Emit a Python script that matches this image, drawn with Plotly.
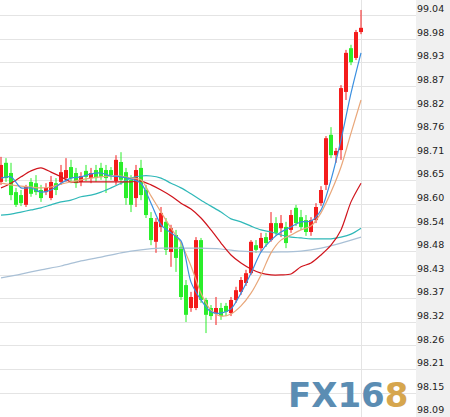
import plotly.graph_objects as go

# ---- candle data (index = bar number) ----
OPEN = [98.648, 98.693, 98.669, 98.624, 98.617, 98.594, 98.648, 98.645, 98.629, 98.624,
        98.610, 98.645, 98.648, 98.657, 98.683, 98.669, 98.648, 98.674, 98.657, 98.676,
        98.681, 98.676, 98.676, 98.650, 98.695, 98.671, 98.653, 98.610, 98.681, 98.629,
        98.563, 98.507, 98.542, 98.554, 98.483, 98.523, 98.495, 98.405, 98.351, 98.351,
        98.511, 98.370, 98.351, 98.339, 98.351, 98.356, 98.339, 98.370, 98.389, 98.410,
        98.433, 98.499, 98.492, 98.518, 98.511, 98.551, 98.539, 98.542, 98.535, 98.587,
        98.565, 98.558, 98.530, 98.558, 98.598, 98.641, 98.759, 98.711, 98.723, 98.860,
        98.963, 98.940, 99.001]
HIGH = [98.707, 98.704, 98.693, 98.634, 98.629, 98.641, 98.657, 98.664, 98.641, 98.645,
        98.662, 98.657, 98.688, 98.704, 98.700, 98.681, 98.671, 98.688, 98.681, 98.688,
        98.693, 98.688, 98.683, 98.711, 98.718, 98.681, 98.664, 98.688, 98.700, 98.641,
        98.577, 98.563, 98.589, 98.563, 98.547, 98.535, 98.507, 98.417, 98.389, 98.518,
        98.516, 98.375, 98.358, 98.377, 98.363, 98.363, 98.377, 98.401, 98.424, 98.441,
        98.511, 98.511, 98.528, 98.528, 98.577, 98.565, 98.570, 98.554, 98.582, 98.594,
        98.582, 98.570, 98.565, 98.598, 98.638, 98.756, 98.777, 98.728, 98.876, 98.959,
        98.971, 99.006, 99.053]
LOW = [98.641, 98.648, 98.605, 98.589, 98.591, 98.589, 98.613, 98.617, 98.601, 98.617,
       98.605, 98.617, 98.641, 98.648, 98.645, 98.634, 98.638, 98.650, 98.645, 98.648,
       98.653, 98.622, 98.653, 98.641, 98.641, 98.594, 98.577, 98.589, 98.605, 98.563,
       98.499, 98.481, 98.530, 98.476, 98.448, 98.436, 98.370, 98.318, 98.342, 98.346,
       98.363, 98.292, 98.323, 98.311, 98.323, 98.332, 98.332, 98.363, 98.382, 98.403,
       98.429, 98.481, 98.483, 98.495, 98.507, 98.521, 98.518, 98.492, 98.528, 98.544,
       98.535, 98.521, 98.521, 98.551, 98.591, 98.629, 98.704, 98.693, 98.700, 98.841,
       98.923, 98.935, 98.996]
CLOSE = [98.688, 98.657, 98.617, 98.594, 98.598, 98.636, 98.620, 98.624, 98.610, 98.634,
         98.648, 98.629, 98.671, 98.676, 98.657, 98.645, 98.662, 98.660, 98.669, 98.657,
         98.660, 98.657, 98.664, 98.700, 98.653, 98.610, 98.594, 98.676, 98.617, 98.570,
         98.511, 98.554, 98.575, 98.488, 98.539, 98.469, 98.377, 98.335, 98.377, 98.511,
         98.370, 98.335, 98.332, 98.351, 98.332, 98.342, 98.370, 98.393, 98.417, 98.433,
         98.507, 98.488, 98.516, 98.504, 98.551, 98.528, 98.551, 98.504, 98.570, 98.551,
         98.542, 98.530, 98.558, 98.589, 98.629, 98.751, 98.711, 98.721, 98.869, 98.952,
         98.930, 99.001, 99.011]

# ---- moving average lines (read at every 2nd bar / every 4th bar) ----
MA_X = list(range(0, 73, 2))
MA_X_SLOW = list(range(0, 73, 4))
MA_BLUE = [98.657, 98.660, 98.634, 98.634, 98.624, 98.629, 98.645, 98.657, 98.660, 98.667,
           98.669, 98.662, 98.660, 98.655, 98.645, 98.598, 98.547, 98.528, 98.509, 98.412,
           98.370, 98.342, 98.339, 98.349, 98.386, 98.433, 98.483, 98.511, 98.530, 98.542,
           98.554, 98.556, 98.582, 98.653, 98.747, 98.857, 98.952]
MA_TAN = [98.645, 98.641, 98.638, 98.636, 98.634, 98.636, 98.643, 98.648, 98.653, 98.657,
          98.660, 98.662, 98.662, 98.657, 98.653, 98.615, 98.577, 98.539, 98.504, 98.450,
          98.386, 98.346, 98.332, 98.337, 98.356, 98.386, 98.429, 98.481, 98.511, 98.523,
          98.535, 98.544, 98.575, 98.624, 98.683, 98.763, 98.841]
MA_RED = [98.634, 98.645, 98.660, 98.674, 98.681, 98.671, 98.660, 98.648, 98.648, 98.648,
          98.648, 98.648, 98.648, 98.648, 98.650, 98.641, 98.629, 98.615, 98.598, 98.584,
          98.563, 98.535, 98.504, 98.476, 98.457, 98.443, 98.433, 98.429, 98.429, 98.431,
          98.448, 98.457, 98.476, 98.499, 98.535, 98.601, 98.645]
MA_TEAL = [98.570, 98.572, 98.577, 98.582, 98.587, 98.594, 98.601, 98.605, 98.613, 98.617,
           98.624, 98.634, 98.645, 98.657, 98.662, 98.662, 98.657, 98.645, 98.634, 98.620,
           98.605, 98.591, 98.577, 98.561, 98.554, 98.544, 98.535, 98.530, 98.523, 98.518,
           98.516, 98.514, 98.514, 98.514, 98.518, 98.525, 98.539]
MA_GRAY = [98.422, 98.431, 98.441, 98.450, 98.462, 98.471, 98.481, 98.488, 98.492, 98.492,
           98.492, 98.490, 98.485, 98.483, 98.483, 98.485, 98.492, 98.504, 98.518]

# ---- axis ticks ----
TICK_TEXT = ["99.04", "98.98", "98.93", "98.87", "98.82", "98.76", "98.71", "98.65", "98.60",
             "98.54", "98.48", "98.43", "98.37", "98.32", "98.26", "98.21", "98.15", "98.09"]
TICK_TOP = 99.04
TICK_STEP = 0.05559
tickvals = [TICK_TOP - k * TICK_STEP for k in range(len(TICK_TEXT))]

RED = "#f41c1c"
GREEN = "#2aee2a"

bars = list(range(len(OPEN)))
up = [c >= o for o, c in zip(OPEN, CLOSE)]
colors = [RED if u else GREEN for u in up]

fig = go.Figure()

# wicks (one trace per colour)
for want, col in ((True, RED), (False, GREEN)):
    wx, wy = [], []
    for i in bars:
        if up[i] == want:
            wx += [i, i, None]
            wy += [LOW[i], HIGH[i], None]
    fig.add_trace(go.Scatter(x=wx, y=wy, mode="lines", line=dict(color=col, width=1),
                             hoverinfo="skip", showlegend=False))

# bodies
fig.add_trace(go.Bar(
    x=bars,
    y=[abs(c - o) for o, c in zip(OPEN, CLOSE)],
    base=[min(o, c) for o, c in zip(OPEN, CLOSE)],
    width=0.8, marker=dict(color=colors, line=dict(width=0)),
    hoverinfo="skip", showlegend=False,
))

def add_line(xs, ys, color, width=1.2):
    fig.add_trace(go.Scatter(x=xs, y=ys, mode="lines",
                             line=dict(color=color, width=width, shape="spline", smoothing=0.8),
                             hoverinfo="skip", showlegend=False))

add_line(MA_X_SLOW, MA_GRAY, "#a9c0d6")
add_line(MA_X, MA_TEAL, "#2fb8b8")
add_line(MA_X, MA_RED, "#d0141c")
add_line(MA_X, MA_TAN, "#e9a77a")
add_line(MA_X, MA_BLUE, "#3a8fe0")

fig.add_annotation(
    xref="paper", yref="paper", x=0.688, y=0.052, xanchor="left", yanchor="middle",
    text="<b>FX16<span style='color:#d6a64e'>8</span></b>",
    showarrow=False, font=dict(family="DejaVu Sans", size=34, color="#5b8db3"),
)

fig.update_layout(
    width=450, height=417,
    margin=dict(l=0, r=34, t=0, b=0),
    paper_bgcolor="#f0f0f0", plot_bgcolor="#ffffff",
    showlegend=False, hovermode=False, barmode="overlay",
    xaxis=dict(range=[-0.2, 83.0],
               tickvals=[72], showticklabels=False, showgrid=True,
               gridcolor="#e4e4e4", gridwidth=1, zeroline=False, showline=False, ticks=""),
    yaxis=dict(range=[98.0943, 99.0765], side="right", tickvals=tickvals, ticktext=TICK_TEXT,
               ticklabelposition="outside top", showgrid=True, gridcolor="#e4e4e4",
               gridwidth=1, zeroline=False, showline=False, ticks="",
               tickfont=dict(family="DejaVu Sans", size=9.5, color="#222222")),
)

fig.write_html("out.html")
